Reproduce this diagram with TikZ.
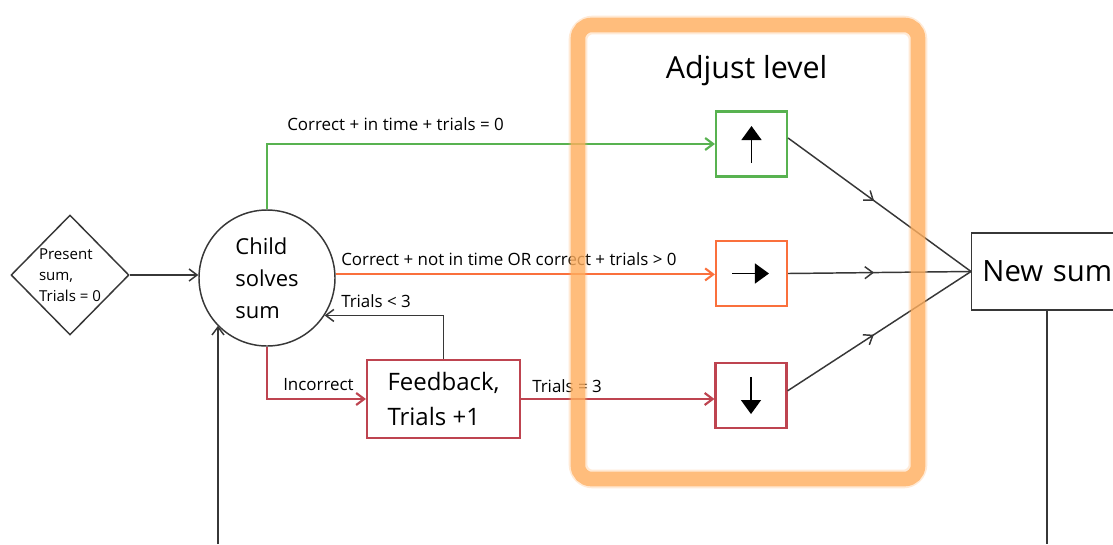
\documentclass[tikz,border=0pt]{standalone}
\usepackage{fontspec}
\setmainfont{Open Sans}
\usetikzlibrary{arrows.meta,shapes.geometric,decorations.markings}
\definecolor{cgreen}{RGB}{88,178,80}
\definecolor{corange}{RGB}{250,112,60}
\definecolor{cred}{RGB}{190,68,80}
\definecolor{cgray}{RGB}{55,55,55}
\definecolor{cframe}{RGB}{255,175,95}
\begin{document}
\begin{tikzpicture}[x=0.75pt,y=-0.75pt,
  barb/.style={-{Straight Barb[length=6pt,width=9pt]}},
  gline/.style={draw=cgray,line width=1.1pt},
  cline/.style={line width=1.6pt},
  lbl/.style={font=\fontsize{12.7}{14}\selectfont, inner sep=0pt, anchor=base west},
  lvlbox/.style={draw, line width=1.6pt, minimum width=53.25pt, minimum height=48.75pt, inner sep=0pt},
  icon/.style={draw=black, line width=1pt, -{Triangle[length=10.5pt,width=15pt]}},
  midarrow/.style={postaction={decorate}, decoration={markings, mark=at position 0.47 with {\arrow{Straight Barb[length=6pt,width=9pt]}}}},
]
\clip (0,0) rectangle (1113,544);
\fill[white] (0,0) rectangle (1113,544);

% nodes
\node[diamond, draw=cgray, line width=1.1pt, minimum width=88.5pt, minimum height=90pt, inner sep=0pt, align=left, font=\fontsize{11.3}{15.7}\selectfont] (pres) at (70,275) {Present\\sum,\\Trials = 0};
\node[circle, draw=cgray, line width=1.1pt, minimum size=102pt, inner sep=0pt, align=left, font=\fontsize{16.5}{24}\selectfont] (child) at (267,278) {Child\\solves\\sum};
\node[draw=cred, line width=1.6pt, minimum width=114.75pt, minimum height=58.5pt, inner sep=0pt, align=left, font=\fontsize{18}{26}\selectfont] (fb) at (443.5,399) {Feedback,\\Trials +1};
\node[lvlbox, draw=cgreen] (up) at (751.5,144) {};
\node[lvlbox, draw=corange] (keep) at (751.5,273.5) {};
\node[lvlbox, draw=cred] (down) at (751,395.5) {};
\node[draw=cgray, line width=1.1pt, anchor=west, minimum height=57.75pt, text width=150pt, inner xsep=8pt, align=left, font=\fontsize{22}{26}\selectfont] (ns) at (971,271.5) {New sum};
\node[font=\fontsize{22.8}{26}\selectfont, anchor=base] (title) at (746.5,78) {Adjust level};

\coordinate (loopin) at (218,544);
\coordinate (nsout) at (1047,544);

% connectors
\draw[gline, barb] (pres.east) -- (pres.east -| child.west);
\draw[gline, barb] (loopin) -- (child.224 -| loopin);
\draw[cline, draw=cgreen, barb] (child.north) |- (up.west);
\draw[cline, draw=corange, barb] (child.3) -- (child.3 -| keep.west);
\draw[gline, barb] (fb.north) |- (child.-33);
\draw[cline, draw=cred, barb] (child.south) |- (fb.west);
\draw[cline, draw=cred, barb] (fb.east) -- (fb.east -| down.west);
\draw[gline, midarrow] ([yshift=4.5pt]up.east) -- (ns.west);
\draw[gline, midarrow] (keep.east) -- (ns.west);
\draw[gline, midarrow] ([yshift=3.5pt]down.east) -- (ns.west);
\draw[gline] (ns.south -| nsout) -- (nsout);

% labels
\node[lbl] (l1) at (287,130) {Correct + in time + trials = 0};
\node[lbl] (l2) at (341,265) {Correct + not in time OR correct + trials > 0};
\node[lbl] (l3) at (341,307) {Trials < 3};
\node[lbl] (l4) at (283,390) {Incorrect};
\node[lbl] (l5) at (532,392) {Trials = 3};

% icons
\draw[icon] ([yshift=-14.25pt]up.center) -- ([yshift=13.5pt]up.center);
\draw[icon] ([xshift=-14.6pt]keep.center) -- ([xshift=13.1pt]keep.center);
\draw[icon] ([yshift=13.9pt]down.center) -- ([yshift=-13.9pt]down.center);

% frame
\draw[cframe, line width=14pt, rounded corners=11pt, opacity=0.25] (578,25) rectangle (918,479);
\draw[cframe, line width=11pt, rounded corners=10pt, opacity=0.75] (578,25) rectangle (918,479);
\end{tikzpicture}
\end{document}
